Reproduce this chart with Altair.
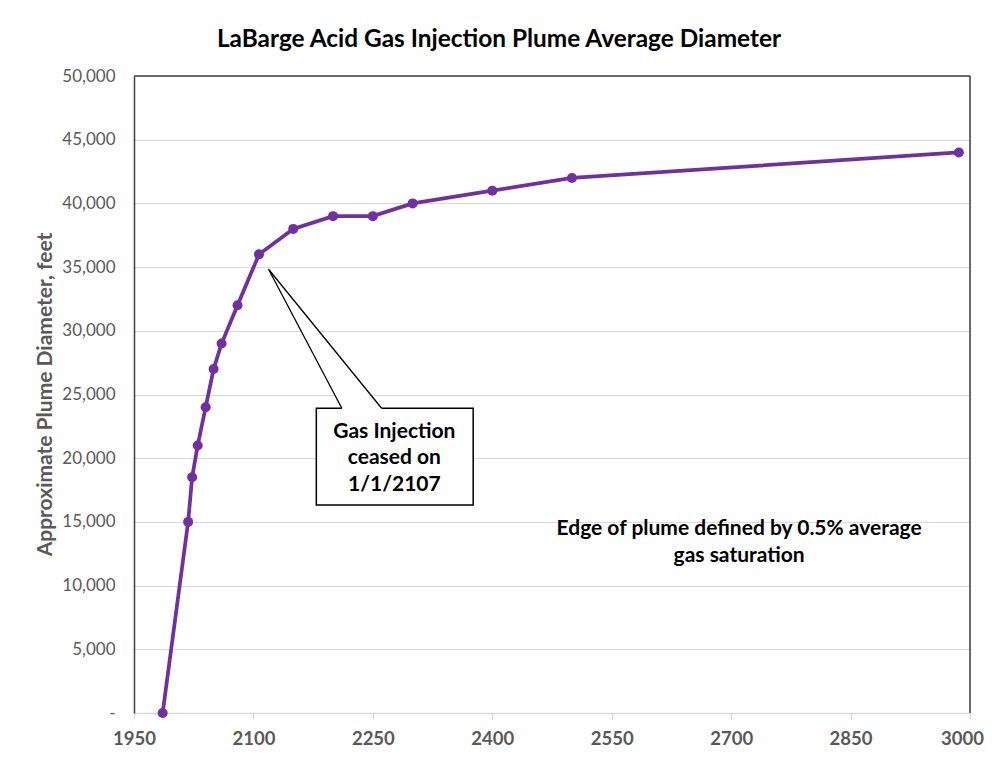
import altair as alt
import pandas as pd

# Data
years = [1986, 2018, 2023, 2030, 2040, 2050, 2060, 2080, 2107, 2150, 2200, 2250, 2300, 2400, 2500, 2986]
diameters = [0, 15000, 18500, 21000, 24000, 27000, 29000, 32000, 36000, 38000, 39000, 39000, 40000, 41000, 42000, 44000]

x_ticks = [1950, 2100, 2250, 2400, 2550, 2700, 2850, 3000]
y_ticks = list(range(0, 50001, 5000))

# Annotation geometry (data units)
box_x = [2179]
box_x2 = [2376]
box_y = [23920]
box_y2 = [16330]
wedge_x = [2211, 2119, 2261]
wedge_y = [23920, 34830, 23920]
wedge_fill_x = [2211, 2119, 2261, 2261, 2211]
wedge_fill_y = [23920, 34830, 23920, 23700, 23700]
box_text = ["Gas Injection", "ceased on", "1/1/2107"]
box_text_y = [22080, 19990, 17900]
box_text_x = [2277, 2277, 2277]
note_text = ["Edge of plume defined by 0.5% average", "gas saturation"]
note_text_x = [2710, 2710]
note_text_y = [14440, 12320]

FONT = "Lato"
GRAY = "#595959"
PURPLE = "#7030A0"

df = pd.DataFrame({"year": years, "diameter": diameters})

xscale = alt.Scale(domain=[1950, 3000], nice=False, zero=False)
yscale = alt.Scale(domain=[0, 50000], nice=False)

xaxis = alt.Axis(values=x_ticks, format="d", title=None, grid=False,
                 domainColor="#d9d9d9", domainWidth=1.5,
                 tickColor="#d9d9d9", tickSize=6, tickWidth=1.2,
                 labelFont=FONT, labelFontSize=18.5, labelFontWeight="bold",
                 labelColor=GRAY, labelPadding=10, labelFlush=False,
                 labelOffset=alt.condition("datum.value == 3000", alt.value(-8), alt.value(0)))
yaxis = alt.Axis(values=y_ticks, title="Approximate Plume Diameter, feet",
                 labelExpr="datum.value == 0 ? '-' : format(datum.value, ',')",
                 grid=True, gridColor="#d9d9d9", gridWidth=1.2,
                 ticks=False, tickSize=0,
                 domainColor="#404040", domainWidth=1.5,
                 labelFont=FONT, labelFontSize=17, labelColor=GRAY, labelPadding=19,
                 titleFont=FONT, titleFontSize=21, titleFontWeight="bold", titleColor=GRAY,
                 titleAngle=-90, titleX=-89, titleY=318, titleAlign="center",
                 titleBaseline="middle")

base = alt.Chart(df)
line = base.mark_line(color=PURPLE, strokeWidth=3.75).encode(
    x=alt.X("year:Q", scale=xscale, axis=xaxis),
    y=alt.Y("diameter:Q", scale=yscale, axis=yaxis),
)
points = base.mark_circle(color=PURPLE, size=100, opacity=1).encode(
    x=alt.X("year:Q", scale=xscale),
    y=alt.Y("diameter:Q", scale=yscale),
)

top_rule = alt.Chart(pd.DataFrame({"y": [50000]})).mark_rule(color="#404040", strokeWidth=1.5).encode(
    y=alt.Y("y:Q", scale=yscale))
right_rule = alt.Chart(pd.DataFrame({"x": [3000]})).mark_rule(color="#404040", strokeWidth=1.5).encode(
    x=alt.X("x:Q", scale=xscale))

box = alt.Chart(pd.DataFrame({"x": box_x, "x2": box_x2, "y": box_y, "y2": box_y2})).mark_rect(
    fill="white", stroke="black", strokeWidth=1.5).encode(
    x=alt.X("x:Q", scale=xscale), x2="x2", y=alt.Y("y:Q", scale=yscale), y2="y2")

wedge_fill = alt.Chart(pd.DataFrame({"x": wedge_fill_x, "y": wedge_fill_y,
                                     "o": list(range(len(wedge_fill_x)))})).mark_line(
    fill="white", stroke="white", strokeWidth=0, strokeOpacity=0).encode(
    x=alt.X("x:Q", scale=xscale), y=alt.Y("y:Q", scale=yscale), order="o:Q")

wedge_line = alt.Chart(pd.DataFrame({"x": wedge_x, "y": wedge_y,
                                     "o": list(range(len(wedge_x)))})).mark_line(
    color="black", strokeWidth=1.3).encode(
    x=alt.X("x:Q", scale=xscale), y=alt.Y("y:Q", scale=yscale), order="o:Q")

box_labels = alt.Chart(pd.DataFrame({"x": box_text_x, "y": box_text_y, "t": box_text})).mark_text(
    font=FONT, fontSize=21, fontWeight="bold", color="black", align="center", baseline="middle").encode(
    x=alt.X("x:Q", scale=xscale), y=alt.Y("y:Q", scale=yscale), text="t:N")

notes = alt.Chart(pd.DataFrame({"x": note_text_x, "y": note_text_y, "t": note_text})).mark_text(
    font=FONT, fontSize=21, fontWeight="bold", color="black", align="center", baseline="middle").encode(
    x=alt.X("x:Q", scale=xscale), y=alt.Y("y:Q", scale=yscale), text="t:N")

chart = alt.layer(
    top_rule, right_rule, line, points, box, wedge_fill, wedge_line, box_labels, notes
).properties(
    width=836, height=637,
    title=alt.TitleParams("LaBarge Acid Gas Injection Plume Average Diameter",
                          font=FONT, fontSize=24.4, fontWeight="bold", color="black",
                          anchor="middle", frame="group", dx=-53, offset=15),
    autosize=alt.AutoSizeParams(type="none"),
    padding={"left": 126, "top": 68, "right": 14, "bottom": 41},
).configure_view(stroke=None).configure(background="white")

chart.save("out.html", embed_options={"renderer": "svg", "actions": False})
